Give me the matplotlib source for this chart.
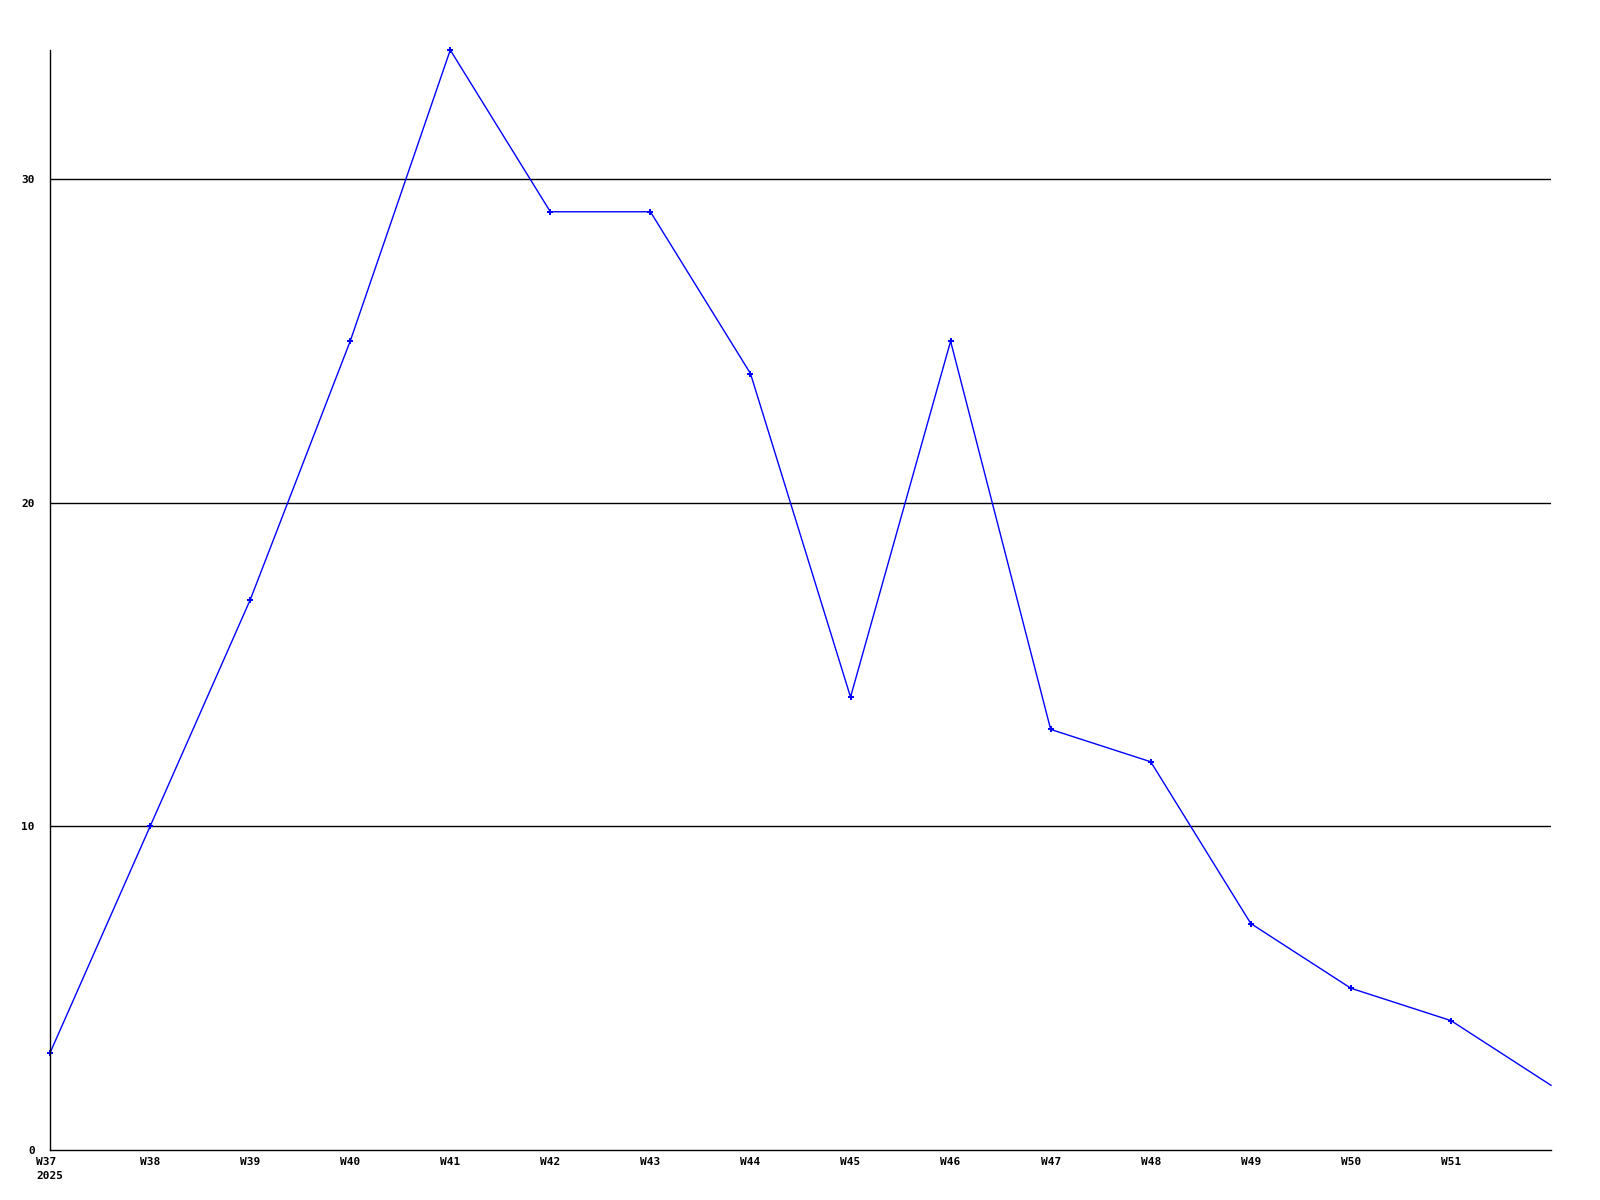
import matplotlib
matplotlib.use('Agg')
import matplotlib.pyplot as plt

weeks = ['W37', 'W38', 'W39', 'W40', 'W41', 'W42', 'W43', 'W44',
         'W45', 'W46', 'W47', 'W48', 'W49', 'W50', 'W51', 'W52']
counts = [3, 10, 17, 25, 34, 29, 29, 24, 14, 25, 13, 12, 7, 5, 4, 2]
tick_labels = ['W37\n2025', 'W38', 'W39', 'W40', 'W41', 'W42', 'W43', 'W44',
               'W45', 'W46', 'W47', 'W48', 'W49', 'W50', 'W51']
y_ticks = [0, 10, 20, 30]

fig = plt.figure(figsize=(16, 12), dpi=100)
ax = fig.add_axes([50 / 1600, 50 / 1200, 1501 / 1600, 1100 / 1200])

x = list(range(len(weeks)))
ax.plot(x, counts, color='blue', lw=1, marker='P', ms=4, mew=0,
        markevery=list(range(len(weeks) - 1)), clip_on=False)

ax.set_xlim(0, len(weeks) - 1)
ax.set_ylim(0, 34)
for v in y_ticks[1:]:
    ax.axhline(v, color='black', lw=1, zorder=0)

font = dict(family='DejaVu Sans Mono', weight='bold', size=8)
ax.set_xticks(x[:-1])
ax.set_xticklabels(tick_labels, fontdict=font)
for lbl in ax.get_xticklabels():
    lbl.set_horizontalalignment('center')
    lbl.set_multialignment('left')
    lbl.set_linespacing(1.5)
ax.set_yticks(y_ticks)
ax.set_yticklabels([str(v) for v in y_ticks], fontdict=font)
ax.tick_params(axis='x', length=0, pad=5)
ax.tick_params(axis='y', length=0, pad=11)

ax.spines['top'].set_visible(False)
ax.spines['right'].set_visible(False)
ax.spines['left'].set_linewidth(1)
ax.spines['bottom'].set_linewidth(1)

fig.savefig('out.png', dpi=100)
